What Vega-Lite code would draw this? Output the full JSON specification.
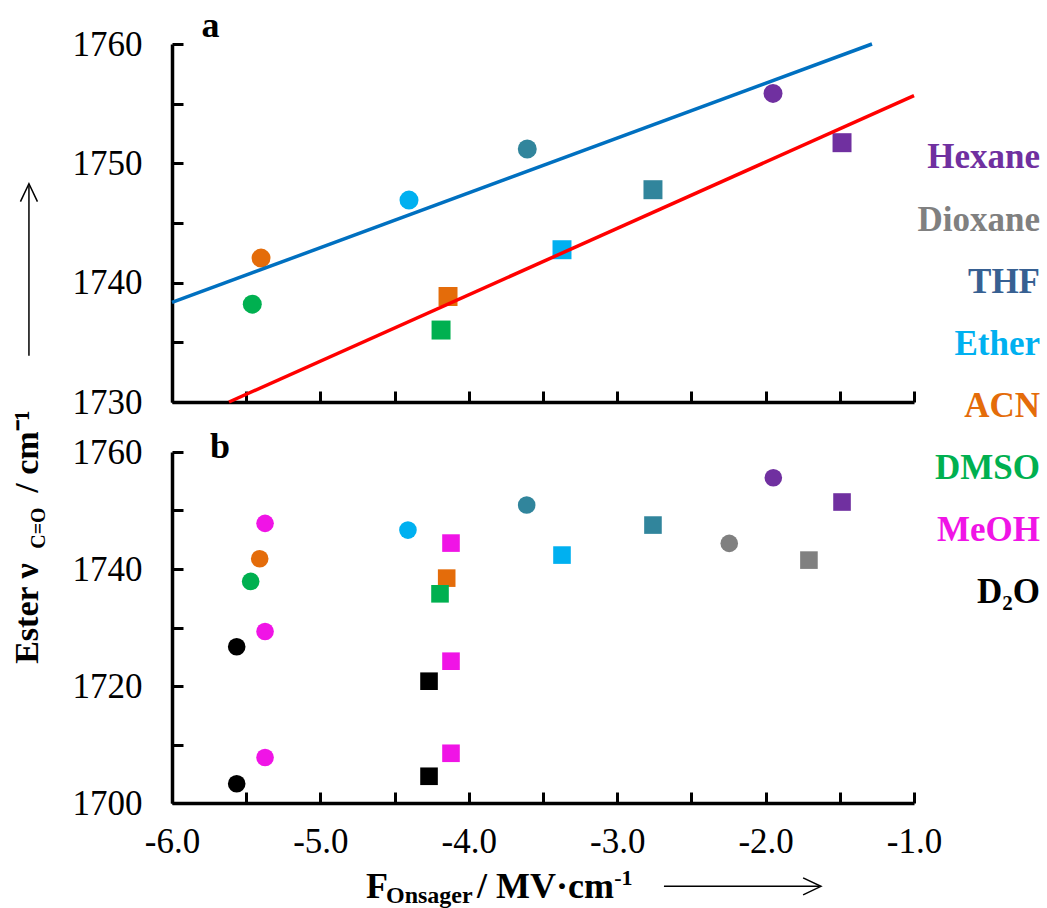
{
  "$schema": "https://vega.github.io/schema/vega-lite/v6.json",
  "background": "white",
  "padding": {"left": 10, "top": 8, "right": 0, "bottom": 0},
  "datasets": {
    "a": [
      {"solvent": "Hexane", "series": "I", "F": -1.95, "nu": 1755.86},
      {"solvent": "THF", "series": "I", "F": -3.606, "nu": 1751.2},
      {"solvent": "Ether", "series": "I", "F": -4.403, "nu": 1746.92},
      {"solvent": "ACN", "series": "I", "F": -5.40, "nu": 1742.06},
      {"solvent": "DMSO", "series": "I", "F": -5.459, "nu": 1738.2},
      {"solvent": "Hexane", "series": "II", "F": -1.485, "nu": 1751.73},
      {"solvent": "THF", "series": "II", "F": -2.759, "nu": 1747.79},
      {"solvent": "Ether", "series": "II", "F": -3.372, "nu": 1742.76},
      {"solvent": "ACN", "series": "II", "F": -4.14, "nu": 1738.84},
      {"solvent": "DMSO", "series": "II", "F": -4.187, "nu": 1736.03}
    ],
    "fits": [
      {"series": "I", "F": -6, "nu": 1738.34},
      {"series": "I", "F": -1.283, "nu": 1760},
      {"series": "II", "F": -5.616, "nu": 1730},
      {"series": "II", "F": -1, "nu": 1755.67}
    ],
    "b": [
      {"solvent": "Hexane", "series": "I", "F": -1.948, "nu": 1755.6},
      {"solvent": "Dioxane", "series": "I", "F": -2.245, "nu": 1744.38},
      {"solvent": "THF", "series": "I", "F": -3.61, "nu": 1750.93},
      {"solvent": "Ether", "series": "I", "F": -4.41, "nu": 1746.65},
      {"solvent": "ACN", "series": "I", "F": -5.409, "nu": 1741.75},
      {"solvent": "DMSO", "series": "I", "F": -5.47, "nu": 1737.88},
      {"solvent": "MeOH", "series": "I", "F": -5.373, "nu": 1747.8},
      {"solvent": "MeOH", "series": "I", "F": -5.373, "nu": 1729.32},
      {"solvent": "MeOH", "series": "I", "F": -5.373, "nu": 1707.77},
      {"solvent": "D₂O", "series": "I", "F": -5.564, "nu": 1726.7},
      {"solvent": "D₂O", "series": "I", "F": -5.564, "nu": 1703.3},
      {"solvent": "Hexane", "series": "II", "F": -1.485, "nu": 1751.45},
      {"solvent": "Dioxane", "series": "II", "F": -1.708, "nu": 1741.52},
      {"solvent": "THF", "series": "II", "F": -2.759, "nu": 1747.51},
      {"solvent": "Ether", "series": "II", "F": -3.372, "nu": 1742.38},
      {"solvent": "MeOH", "series": "II", "F": -4.12, "nu": 1744.43},
      {"solvent": "ACN", "series": "II", "F": -4.149, "nu": 1738.44},
      {"solvent": "DMSO", "series": "II", "F": -4.194, "nu": 1735.76},
      {"solvent": "MeOH", "series": "II", "F": -4.12, "nu": 1724.24},
      {"solvent": "MeOH", "series": "II", "F": -4.12, "nu": 1708.5},
      {"solvent": "D₂O", "series": "II", "F": -4.268, "nu": 1720.82},
      {"solvent": "D₂O", "series": "II", "F": -4.268, "nu": 1704.57}
    ],
    "labels": [
      {"label": "Hexane"}, {"label": "Dioxane"}, {"label": "THF"}, {"label": "Ether"},
      {"label": "ACN"}, {"label": "DMSO"}, {"label": "MeOH"}, {"label": "D₂O"}
    ]
  },
  "spacing": 728,
  "bounds": "flush",
  "resolve": {"scale": {"color": "independent"}},
  "hconcat": [
    {
      "vconcat": [
        {
          "width": 742,
          "height": 358,
          "data": {"values": [{}]},
          "layer": [
            {
              "data": {"name": "a"},
              "mark": {"type": "point", "filled": true, "size": 360, "opacity": 1},
              "encoding": {
                "x": {"field": "F", "type": "quantitative",
                  "scale": {"domain": [-6, -1], "nice": false, "zero": false},
                  "axis": {"title": null, "grid": false, "labels": false,
                    "values": [-6, -5.5, -5, -4.5, -4, -3.5, -3, -2.5, -2, -1.5, -1]}},
                "y": {"field": "nu", "type": "quantitative",
                  "scale": {"domain": [1730, 1760], "nice": false, "zero": false},
                  "axis": {"title": null, "grid": false, "labelPadding": 41,
                    "values": [1730, 1732.5, 1735, 1737.5, 1740, 1742.5, 1745, 1747.5, 1750, 1752.5, 1755, 1757.5, 1760],
                    "labelExpr": "datum.value % 10 === 0 ? '' + datum.value : ''"}},
                "color": {"field": "solvent", "type": "nominal", "legend": null,
                  "scale": {"domain": ["Hexane", "Dioxane", "THF", "Ether", "ACN", "DMSO", "MeOH", "D₂O"],
                    "range": ["#7030A0", "#808080", "#31859C", "#00B0F0", "#E46C0A", "#00B050", "#F014E6", "#000000"]}},
                "shape": {"field": "series", "type": "nominal", "legend": null,
                  "scale": {"domain": ["I", "II"], "range": ["circle", "square"]}}
              }
            },
            {
              "data": {"name": "fits"},
              "transform": [{"filter": "datum.series === 'I'"}],
              "mark": {"type": "line", "color": "#0070C0", "strokeWidth": 3.5},
              "encoding": {
                "x": {"field": "F", "type": "quantitative"},
                "y": {"field": "nu", "type": "quantitative"}
              }
            },
            {
              "data": {"name": "fits"},
              "transform": [{"filter": "datum.series === 'II'"}],
              "mark": {"type": "line", "color": "#FF0000", "strokeWidth": 3.5},
              "encoding": {
                "x": {"field": "F", "type": "quantitative"},
                "y": {"field": "nu", "type": "quantitative"}
              }
            },
            {
              "mark": {"type": "text", "text": "a", "font": "Liberation Serif", "fontWeight": "bold", "fontSize": 36, "align": "center", "baseline": "alphabetic"},
              "encoding": {"x": {"datum": -5.74, "type": "quantitative"}, "y": {"datum": 1760.55, "type": "quantitative"}}
            },
            {
              "mark": {"type": "text", "text": "Ester ν", "font": "Liberation Serif", "fontWeight": "bold", "fontSize": 34, "angle": 270, "align": "left", "baseline": "alphabetic"},
              "encoding": {"x": {"datum": -6.906, "type": "quantitative"}, "y": {"datum": 1708.06, "type": "quantitative"}}
            },
            {
              "mark": {"type": "text", "text": "C=O", "font": "Liberation Serif", "fontWeight": "bold", "fontSize": 20, "angle": 270, "align": "left", "baseline": "alphabetic"},
              "encoding": {"x": {"datum": -6.859, "type": "quantitative"}, "y": {"datum": 1717.7, "type": "quantitative"}}
            },
            {
              "mark": {"type": "text", "text": "/ cm⁻¹", "font": "Liberation Serif", "fontWeight": "bold", "fontSize": 34, "angle": 270, "align": "left", "baseline": "alphabetic"},
              "encoding": {"x": {"datum": -6.906, "type": "quantitative"}, "y": {"datum": 1722.39, "type": "quantitative"}}
            },
            {
              "mark": {"type": "rule", "color": "black", "strokeWidth": 1.5},
              "encoding": {"x": {"datum": -6.964, "type": "quantitative"}, "y": {"datum": 1733.87, "type": "quantitative"}, "y2": {"datum": 1748.12}}
            },
            {
              "mark": {"type": "point", "shape": "M-1,2.1L0,0L1,2.1", "filled": false, "color": "black", "strokeWidth": 1.5, "size": 289, "opacity": 1},
              "encoding": {"x": {"datum": -6.964, "type": "quantitative"}, "y": {"datum": 1748.29, "type": "quantitative"}}
            }
          ]
        },
        {
          "width": 742,
          "height": 351,
          "data": {"values": [{}]},
          "layer": [
            {
              "data": {"name": "b"},
              "mark": {"type": "point", "filled": true, "size": 310, "opacity": 1},
              "encoding": {
                "x": {"field": "F", "type": "quantitative",
                  "scale": {"domain": [-6, -1], "nice": false, "zero": false},
                  "axis": {"title": null, "grid": false, "labelPadding": 32,
                    "values": [-6, -5.5, -5, -4.5, -4, -3.5, -3, -2.5, -2, -1.5, -1],
                    "labelExpr": "datum.value % 1 === 0 ? '-' + format(abs(datum.value), '.1f') : ''"}},
                "y": {"field": "nu", "type": "quantitative",
                  "scale": {"domain": [1700, 1760], "nice": false, "zero": false},
                  "axis": {"title": null, "grid": false, "labelPadding": 41,
                    "values": [1700, 1705, 1710, 1715, 1720, 1725, 1730, 1735, 1740, 1745, 1750, 1755, 1760],
                    "labelExpr": "datum.value % 20 === 0 ? '' + datum.value : ''"}},
                "color": {"field": "solvent", "type": "nominal", "legend": null,
                  "scale": {"domain": ["Hexane", "Dioxane", "THF", "Ether", "ACN", "DMSO", "MeOH", "D₂O"],
                    "range": ["#7030A0", "#808080", "#31859C", "#00B0F0", "#E46C0A", "#00B050", "#F014E6", "#000000"]}},
                "shape": {"field": "series", "type": "nominal", "legend": null,
                  "scale": {"domain": ["I", "II"], "range": ["circle", "square"]}}
              }
            },
            {
              "mark": {"type": "text", "text": "b", "font": "Liberation Serif", "fontWeight": "bold", "fontSize": 36, "align": "center", "baseline": "alphabetic"},
              "encoding": {"x": {"datum": -5.677, "type": "quantitative"}, "y": {"datum": 1759.0, "type": "quantitative"}}
            },
            {
              "mark": {"type": "text", "text": "F", "font": "Liberation Serif", "fontWeight": "bold", "fontSize": 36, "align": "left", "baseline": "alphabetic"},
              "encoding": {"x": {"datum": -4.693, "type": "quantitative"}, "y": {"datum": 1683.7, "type": "quantitative"}}
            },
            {
              "mark": {"type": "text", "text": "Onsager", "font": "Liberation Serif", "fontWeight": "bold", "fontSize": 24, "align": "left", "baseline": "alphabetic"},
              "encoding": {"x": {"datum": -4.558, "type": "quantitative"}, "y": {"datum": 1682.85, "type": "quantitative"}}
            },
            {
              "mark": {"type": "text", "text": "/ MV·cm", "font": "Liberation Serif", "fontWeight": "bold", "fontSize": 36, "align": "left", "baseline": "alphabetic"},
              "encoding": {"x": {"datum": -3.945, "type": "quantitative"}, "y": {"datum": 1683.7, "type": "quantitative"}}
            },
            {
              "mark": {"type": "text", "text": "-1", "font": "Liberation Serif", "fontWeight": "bold", "fontSize": 22, "align": "left", "baseline": "alphabetic"},
              "encoding": {"x": {"datum": -3.02, "type": "quantitative"}, "y": {"datum": 1685.92, "type": "quantitative"}}
            },
            {
              "mark": {"type": "rule", "color": "black", "strokeWidth": 1.5},
              "encoding": {"x": {"datum": -2.685, "type": "quantitative"}, "x2": {"datum": -1.64}, "y": {"datum": 1685.75, "type": "quantitative"}}
            },
            {
              "mark": {"type": "point", "shape": "M-2.1,-1L0,0L-2.1,1", "filled": false, "color": "black", "strokeWidth": 1.5, "size": 289, "opacity": 1},
              "encoding": {"x": {"datum": -1.627, "type": "quantitative"}, "y": {"datum": 1685.75, "type": "quantitative"}}
            }
          ]
        }
      ],
      "spacing": 50,
      "bounds": "flush"
    },
    {
      "width": 140,
      "height": 558.6,
      "data": {"name": "labels"},
      "mark": {"type": "text", "align": "right", "baseline": "middle", "font": "Liberation Serif", "fontWeight": "bold", "fontSize": 35},
      "encoding": {
        "x": {"datum": 1, "type": "quantitative", "scale": {"domain": [0, 1]}, "axis": null},
        "y": {"field": "label", "type": "nominal", "sort": null, "scale": {"type": "point", "padding": 1, "align": 0.914}, "axis": null},
        "text": {"field": "label"},
        "color": {"field": "label", "type": "nominal", "legend": null,
          "scale": {"domain": ["Hexane", "Dioxane", "THF", "Ether", "ACN", "DMSO", "MeOH", "D₂O"],
            "range": ["#7030A0", "#808080", "#376092", "#00B0F0", "#E46C0A", "#00B050", "#F014E6", "#000000"]}}
      }
    }
  ],
  "config": {
    "view": {"stroke": null},
    "axis": {
      "domainColor": "black",
      "domainWidth": 3.5,
      "tickColor": "black",
      "tickWidth": 3,
      "tickSize": -11,
      "labelFont": "Liberation Serif",
      "labelFontSize": 35,
      "labelColor": "black",
      "labelOverlap": false,
      "labelFlush": false
    }
  }
}
